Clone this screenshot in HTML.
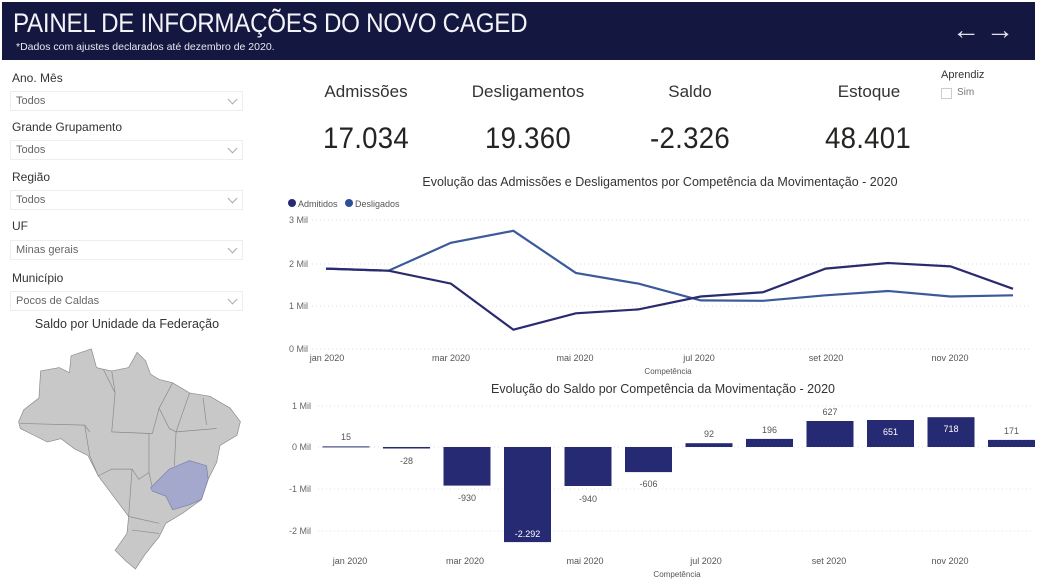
<!DOCTYPE html>
<html><head><meta charset="utf-8"><style>
body{margin:0;width:1038px;height:582px;background:#fff;font-family:"Liberation Sans","DejaVu Sans",sans-serif;position:relative;overflow:hidden;color:#252423}
.hdr{position:absolute;left:2px;top:2px;width:1033px;height:58px;background:#141840;color:#fff}
.hdr h1{position:absolute;left:11px;top:6px;margin:0;font-weight:normal;font-size:27px;letter-spacing:-0.3px;color:#f4f4f8;transform:scaleX(0.895);transform-origin:left top;white-space:nowrap}
.hdr .sub{position:absolute;left:14px;top:39px;font-size:10.5px;color:#e8e8f0}
.arr{position:absolute;top:12px;font-size:28px;color:#e0e0e8}
.lbl{position:absolute;left:12px;font-size:12px;color:#333}
.box{position:absolute;left:10px;width:233px;height:20px;border:1px solid #eee;box-sizing:border-box;font-size:11px;color:#666;padding:3px 0 0 5px}
.box:after{content:"";position:absolute;right:6px;top:4px;width:6px;height:6px;border-right:1px solid #aaa;border-bottom:1px solid #aaa;transform:rotate(45deg)}
.kl{position:absolute;font-size:17px;color:#333;transform:translateX(-50%);white-space:nowrap;top:82px}
.kn{position:absolute;font-size:30px;color:#252423;transform:translateX(-50%) scaleX(0.92);top:122px;letter-spacing:0.3px}
svg text{font-family:"Liberation Sans",sans-serif}
</style></head><body>
<div class="hdr"><h1>PAINEL DE INFORMAÇÕES DO NOVO CAGED</h1><div class="sub">*Dados com ajustes declarados até dezembro de 2020.</div>
<div class="arr" style="left:950px">←</div><div class="arr" style="left:984px">→</div></div>

<div class="lbl" style="top:71px">Ano. Mês</div><div class="box" style="top:91px">Todos</div>
<div class="lbl" style="top:120px">Grande Grupamento</div><div class="box" style="top:140px">Todos</div>
<div class="lbl" style="top:170px">Região</div><div class="box" style="top:190px">Todos</div>
<div class="lbl" style="top:219px">UF</div><div class="box" style="top:240px">Minas gerais</div>
<div class="lbl" style="top:271px">Município</div><div class="box" style="top:291px">Pocos de Caldas</div>
<div style="position:absolute;left:0;width:254px;text-align:center;top:317px;font-size:12.5px;color:#333">Saldo por Unidade da Federação</div>

<svg style="position:absolute;left:0;top:320px" width="260" height="262" viewBox="0 0 768 773">
<polygon fill="#c8c8c8" stroke="#8a8a8a" stroke-width="2" points="55,300 70,265 115,230 120,150 175,140 205,155 210,105 270,85 285,140 305,145 330,150 380,140 405,95 430,120 445,160 470,175 510,185 560,215 620,225 680,260 710,300 700,340 650,370 640,420 615,470 595,530 540,570 490,600 470,640 430,690 400,735 370,710 340,680 375,630 380,580 350,540 320,500 290,460 260,400 220,380 180,350 140,360 100,340 60,320"/>
<g fill="none" stroke="#8a8a8a" stroke-width="2">
<path d="M60,305 L250,310 L265,330 M305,145 L340,215 L330,330 L450,335 M330,150 L340,215 M450,335 L470,260 L510,185 M470,260 L500,320 L520,330 L560,215 M520,330 L640,320 M600,230 L610,310 M250,310 L265,400 L290,460 M330,330 L440,335 L440,450 L410,470 L390,440 L330,440 L290,460 M440,450 L450,495 M390,440 L380,580 M380,580 L470,600 M390,620 L470,630 M520,330 L515,430"/>
</g>
<polygon fill="#a3a8cc" stroke="#7a7fa8" stroke-width="2" points="445,495 500,440 560,415 610,430 615,470 595,530 560,545 510,560 490,520 450,505"/>
</svg>

<div class="kl" style="left:366px">Admissões</div><div class="kn" style="left:366px">17.034</div>
<div class="kl" style="left:528px">Desligamentos</div><div class="kn" style="left:528px">19.360</div>
<div class="kl" style="left:690px">Saldo</div><div class="kn" style="left:690px">-2.326</div>
<div class="kl" style="left:869px">Estoque</div><div class="kn" style="left:868px">48.401</div>
<div style="position:absolute;left:941px;top:69px;font-size:11px;color:#333">Aprendiz</div>
<div style="position:absolute;left:941px;top:88px;width:9px;height:9px;border:1px solid #ccc"></div>
<div style="position:absolute;left:957px;top:87px;font-size:10px;color:#777">Sim</div>

<svg style="position:absolute;left:0;top:0" width="1038" height="582">
<text x="660" y="186" text-anchor="middle" font-size="12.5" fill="#333">Evolução das Admissões e Desligamentos por Competência da Movimentação - 2020</text>
<circle cx="292" cy="203" r="4" fill="#252a72"/><text x="298" y="207" font-size="9" fill="#555">Admitidos</text>
<circle cx="349" cy="203" r="4" fill="#2f4e9a"/><text x="355" y="207" font-size="9" fill="#555">Desligados</text>
<g stroke="#ddd" stroke-dasharray="1 3"><line x1="312" x2="1030" y1="220" y2="220"/><line x1="312" x2="1030" y1="264" y2="264"/><line x1="312" x2="1030" y1="306" y2="306"/><line x1="312" x2="1030" y1="349" y2="349"/></g>
<g font-size="9" fill="#666"><text x="289" y="223">3 Mil</text><text x="289" y="267">2 Mil</text><text x="289" y="309">1 Mil</text><text x="289" y="352">0 Mil</text></g>
<g font-size="9" fill="#555" text-anchor="middle"><text x="327" y="361">jan 2020</text><text x="451" y="361">mar 2020</text><text x="575" y="361">mai 2020</text><text x="699" y="361">jul 2020</text><text x="826" y="361">set 2020</text><text x="950" y="361">nov 2020</text><text x="668" y="374" font-size="8">Competência</text></g>
<polyline fill="none" stroke="#3a5a9a" stroke-width="2.2" points="326,268.6 388.5,270.7 450.9,242.8 513.4,230.8 575.8,272.9 638.3,283.6 700.7,300.4 763.2,300.8 825.6,295.3 888.1,291 950.5,296.5 1013,295.3"/>
<polyline fill="none" stroke="#2a2a6e" stroke-width="2.2" points="326,268.6 388.5,270.7 450.9,283.6 513.4,329.7 575.8,313.3 638.3,309.4 700.7,296.5 763.2,292.2 825.6,268.6 888.1,263 950.5,266.4 1013,288.8"/>

<text x="663" y="393" text-anchor="middle" font-size="12.5" fill="#333">Evolução do Saldo por Competência da Movimentação - 2020</text>
<g stroke="#ddd" stroke-dasharray="1 3"><line x1="318" x2="1032" y1="406" y2="406"/><line x1="318" x2="1032" y1="447" y2="447"/><line x1="318" x2="1032" y1="489" y2="489"/><line x1="318" x2="1032" y1="531" y2="531"/></g>
<g font-size="9" fill="#666"><text x="292" y="409">1 Mil</text><text x="292" y="450">0 Mil</text><text x="289" y="492">-1 Mil</text><text x="289" y="534">-2 Mil</text></g>
<g fill="#252a72">
<rect x="322.5" y="446.4" width="47" height="1"/>
<rect x="383" y="447" width="47" height="1.5"/>
<rect x="443.5" y="447" width="47" height="38.6"/>
<rect x="504" y="447" width="47" height="95.1"/>
<rect x="564.5" y="447" width="47" height="39"/>
<rect x="625" y="447" width="47" height="25.1"/>
<rect x="685.5" y="443.2" width="47" height="3.8"/>
<rect x="746" y="438.9" width="47" height="8.1"/>
<rect x="806.5" y="421" width="47" height="26"/>
<rect x="867" y="420" width="47" height="27"/>
<rect x="927.5" y="417.2" width="47" height="29.8"/>
<rect x="988" y="439.9" width="47" height="7.1"/>
</g>
<g font-size="9" fill="#555" text-anchor="middle">
<text x="346" y="440">15</text><text x="406.5" y="464">-28</text><text x="467" y="501">-930</text><text x="588" y="502">-940</text><text x="648.5" y="487">-606</text>
<text x="709" y="437">92</text><text x="769.5" y="433">196</text><text x="830" y="415">627</text><text x="1011.5" y="434">171</text>
<g fill="#fff"><text x="527.5" y="537">-2.292</text><text x="890.5" y="435">651</text><text x="951" y="432">718</text></g>
<text x="350" y="564">jan 2020</text><text x="465" y="564">mar 2020</text><text x="585" y="564">mai 2020</text><text x="706" y="564">jul 2020</text><text x="829" y="564">set 2020</text><text x="950" y="564">nov 2020</text><text x="677" y="577" font-size="8">Competência</text>
</g>
</svg>
</body></html>
